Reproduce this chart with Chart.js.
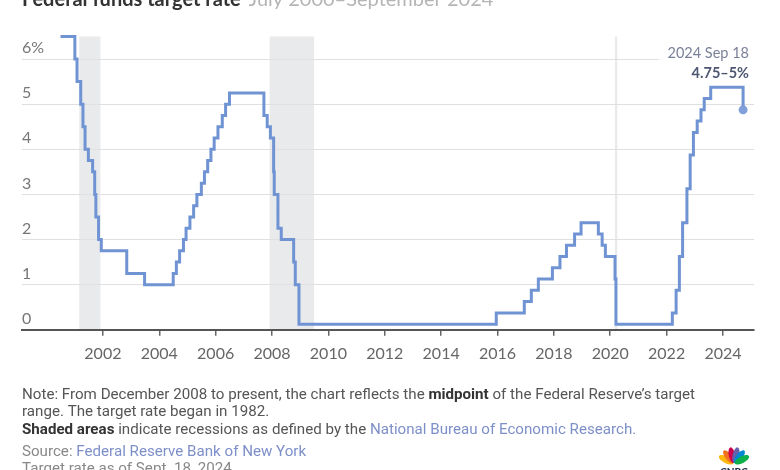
<!DOCTYPE html>
<html>
<head>
<meta charset="utf-8">
<script src="https://cdn.jsdelivr.net/npm/chart.js@4.4.1/dist/chart.umd.min.js"></script>
<style>
  html, body { margin: 0; padding: 0; background: #fff; }
  #wrap { width: 780px; height: 470px; position: relative; }
</style>
</head>
<body>
<div id="wrap"><canvas id="fedChart" width="780" height="470"></canvas></div>
<script>
// Datos: cambios de la tasa objetivo (desde dic. 2008 = punto medio del rango)
const rateDates = [
  '2000-07-01', '2001-01-03', '2001-01-31', '2001-03-20', '2001-04-18', '2001-05-15',
  '2001-06-27', '2001-08-21', '2001-09-17', '2001-10-02', '2001-11-06', '2001-12-11',
  '2002-11-06', '2003-06-25',
  '2004-06-30', '2004-08-10', '2004-09-21', '2004-11-10', '2004-12-14',
  '2005-02-02', '2005-03-22', '2005-05-03', '2005-06-30', '2005-08-09', '2005-09-20',
  '2005-11-01', '2005-12-13',
  '2006-01-31', '2006-03-28', '2006-05-10', '2006-06-29',
  '2007-09-18', '2007-10-31', '2007-12-11',
  '2008-01-22', '2008-01-30', '2008-03-18', '2008-04-30', '2008-10-08', '2008-10-29', '2008-12-16',
  '2015-12-16', '2016-12-14',
  '2017-03-15', '2017-06-14', '2017-12-13',
  '2018-03-21', '2018-06-13', '2018-09-26', '2018-12-19',
  '2019-07-31', '2019-09-18', '2019-10-30',
  '2020-03-03', '2020-03-15',
  '2022-03-16', '2022-05-04', '2022-06-15', '2022-07-27', '2022-09-21', '2022-11-02', '2022-12-14',
  '2023-02-01', '2023-03-22', '2023-05-03', '2023-07-26',
  '2024-09-18'
];
const rateValues = [
  6.5, 6.0, 5.5, 5.0, 4.5, 4.0,
  3.75, 3.5, 3.0, 2.5, 2.0, 1.75,
  1.25, 1.0,
  1.25, 1.5, 1.75, 2.0, 2.25,
  2.5, 2.75, 3.0, 3.25, 3.5, 3.75,
  4.0, 4.25,
  4.5, 4.75, 5.0, 5.25,
  4.75, 4.5, 4.25,
  3.5, 3.0, 2.25, 2.0, 1.5, 1.0, 0.125,
  0.375, 0.625,
  0.875, 1.125, 1.375,
  1.625, 1.875, 2.125, 2.375,
  2.125, 1.875, 1.625,
  1.125, 0.125,
  0.375, 0.875, 1.625, 2.375, 3.125, 3.875, 4.375,
  4.625, 4.875, 5.125, 5.375,
  4.875
];
// Recesiones (NBER), inicio y fin
const recessionStarts = ['2001-03-01', '2007-12-01', '2020-03-01'];
const recessionEnds = ['2001-11-30', '2009-06-30', '2020-04-01'];
const xTickYears = [2002, 2004, 2006, 2008, 2010, 2012, 2014, 2016, 2018, 2020, 2022, 2024];
const yTickValues = [0, 1, 2, 3, 4, 5, 6];

// fecha 'YYYY-MM-DD' -> año decimal
function toYear(s) {
  const [y, m, d] = s.split('-').map(Number);
  const start = Date.UTC(y, 0, 1);
  const end = Date.UTC(y + 1, 0, 1);
  return y + (Date.UTC(y, m - 1, d) - start) / (end - start);
}

const points = rateDates.map((d, i) => ({ x: toYear(d), y: rateValues[i] }));
const lastIdx = points.length - 1;

// Sombreado de recesiones, antes de la cuadrícula
const recessionPlugin = {
  id: 'recessions',
  beforeDraw(chart) {
    const { ctx, chartArea, scales: { x } } = chart;
    ctx.save();
    ctx.fillStyle = '#e9eaec';
    recessionStarts.forEach((s, i) => {
      const x0 = x.getPixelForValue(toYear(s));
      const x1 = x.getPixelForValue(toYear(recessionEnds[i]));
      ctx.fillRect(x0, chartArea.top, Math.max(x1 - x0, 2), chartArea.bottom - chartArea.top);
    });
    ctx.restore();
  }
};

function drawRich(ctx, segs, x, y) {
  segs.forEach(s => {
    ctx.font = s.font;
    ctx.fillStyle = s.color;
    ctx.fillText(s.t, x, y);
    x += ctx.measureText(s.t).width;
  });
  return x;
}

function richWidth(ctx, segs) {
  let w = 0;
  segs.forEach(s => { ctx.font = s.font; w += ctx.measureText(s.t).width; });
  return w;
}

// Textos: título, anotación final, notas y logo
const textPlugin = {
  id: 'texts',
  afterDraw(chart) {
    const { ctx, chartArea } = chart;
    ctx.save();

    // título (cortado arriba, como en la imagen)
    ctx.textBaseline = 'alphabetic';
    const tEnd = drawRich(ctx, [
      { t: 'Federal funds target rate', font: '700 20px Lato', color: '#333' }
    ], 22, 6);
    drawRich(ctx, [
      { t: 'July 2000\u2013September 2024', font: '400 20px Lato', color: '#b5b5b5' }
    ], tEnd + 8, 6);

    // anotación del último punto
    const ax = chartArea.right - 5;
    ctx.fillStyle = '#fff';
    ctx.fillRect(ax - 90, 45, 95, 36);
    ctx.textAlign = 'right';
    ctx.textBaseline = 'middle';
    ctx.font = '400 14.5px Lato';
    ctx.fillStyle = '#7a8299';
    ctx.fillText('2024 Sep 18', ax, 53);
    ctx.font = '700 14.5px Lato';
    ctx.fillStyle = '#4d5670';
    ctx.fillText('4.75\u20135%', ax, 73);

    // notas al pie
    ctx.textAlign = 'left';
    const reg = '400 14px Roboto', bold = '700 14px Roboto';
    const lines = [
      { y: 395, segs: [
        { t: 'Note: From December 2008 to present, the chart reflects the ', font: reg, color: '#555' },
        { t: 'midpoint', font: bold, color: '#333' },
        { t: ' of the Federal Reserve\u2019s target', font: reg, color: '#555' }
      ] },
      { y: 412, segs: [
        { t: 'range. The target rate began in 1982.', font: reg, color: '#555' }
      ] },
      { y: 430.5, segs: [
        { t: 'Shaded areas', font: bold, color: '#333' },
        { t: ' indicate recessions as defined by the ', font: reg, color: '#555' },
        { t: 'National Bureau of Economic Research.', font: reg, color: '#7d8fc9' }
      ] },
      { y: 452, segs: [
        { t: 'Source: ', font: reg, color: '#888' },
        { t: 'Federal Reserve Bank of New York', font: reg, color: '#7d8fc9' }
      ] },
      { y: 469.5, segs: [
        { t: 'Target rate as of Sept. 18, 2024', font: reg, color: '#888' }
      ] }
    ];
    const sx = 673 / richWidth(ctx, lines[0].segs);
    lines.forEach(l => {
      ctx.save();
      ctx.translate(22, 0);
      ctx.scale(sx, 1);
      drawRich(ctx, l.segs, 0, l.y);
      ctx.restore();
    });

    // logo (pavo real)
    const cols = ['#fcb711', '#f37021', '#cc004c', '#6460aa', '#0089d0', '#0db14b'];
    const cx = 734, cy = 464;
    cols.forEach((c, i) => {
      const ang = (-62 + i * 24.8) * Math.PI / 180;
      ctx.save();
      ctx.translate(cx, cy);
      ctx.rotate(ang);
      ctx.beginPath();
      ctx.ellipse(0, -9, 3.3, 8, 0, 0, Math.PI * 2);
      ctx.fillStyle = c;
      ctx.fill();
      ctx.restore();
    });
    ctx.font = '900 10px Lato';
    ctx.fillStyle = '#1b2a4a';
    ctx.textAlign = 'center';
    ctx.fillText('CNBC', cx, 472);

    ctx.restore();
  }
};

const ctx = document.getElementById('fedChart').getContext('2d');
new Chart(ctx, {
  type: 'line',
  data: {
    datasets: [{
      data: points,
      borderColor: '#6f93d3',
      borderWidth: 3,
      stepped: true,
      fill: false,
      clip: false,
      pointRadius: c => (c.dataIndex === lastIdx ? 4.5 : 0),
      pointHoverRadius: 0,
      pointBackgroundColor: '#819fd8',
      pointBorderWidth: 0
    }]
  },
  options: {
    responsive: false,
    animation: false,
    events: [],
    layout: { padding: { left: 22, right: 26, top: 36.5, bottom: 99 } },
    plugins: { legend: { display: false }, tooltip: { enabled: false } },
    scales: {
      x: {
        type: 'linear',
        min: 1999.13,
        max: 2025.1,
        afterBuildTicks: axis => { axis.ticks = xTickYears.map(v => ({ value: v })); },
        grid: { drawOnChartArea: false, drawTicks: true, tickLength: 6, color: '#666', lineWidth: 1.5 },
        border: { display: true, color: '#555', width: 2 },
        ticks: {
          padding: 8,
          color: '#666',
          font: { family: 'Lato', size: 16 },
          maxRotation: 0,
          autoSkip: false,
          callback: v => String(v)
        }
      },
      y: {
        min: 0,
        max: 6.5,
        afterBuildTicks: axis => { axis.ticks = yTickValues.map(v => ({ value: v })); },
        grid: { color: '#e0e0e0', lineWidth: 1, drawTicks: false },
        border: { display: false },
        ticks: {
          mirror: true,
          padding: 0,
          labelOffset: -11,
          color: '#777',
          font: { family: 'Lato', size: 16 },
          callback: v => (v === 6 ? '6%' : String(v))
        }
      }
    }
  },
  plugins: [recessionPlugin, textPlugin]
});
</script>
</body>
</html>
